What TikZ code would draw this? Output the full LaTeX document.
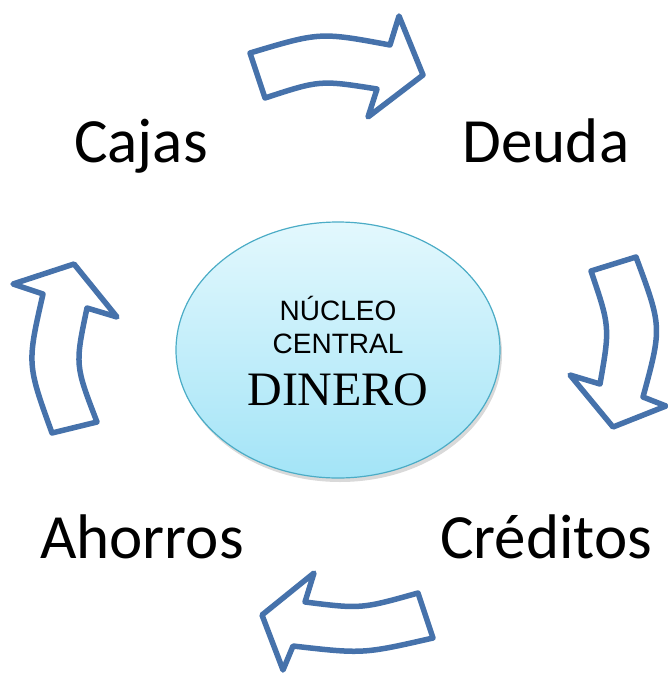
\documentclass[tikz,border=0pt]{standalone}
\usepackage{fontspec}
\usetikzlibrary{shapes.geometric,shadows}
\newfontfamily\fuenteetiqueta{Carlito}
\newfontfamily\fuentesans{Liberation Sans}
\newfontfamily\fuenteserif{Liberation Serif}
\definecolor{azulflecha}{RGB}{70,114,171}
\definecolor{bordenucleo}{RGB}{75,172,198}
\definecolor{cielo}{RGB}{227,248,253}
\definecolor{celeste}{RGB}{163,228,247}
\tikzset{
  flecha/.style={draw=azulflecha, line width=5.5pt, line join=round, fill=white},
  etiqueta/.style={anchor=base, inner sep=0pt, font=\fuenteetiqueta\fontsize{63}{70}\selectfont},
  centro/.style={anchor=base, inner sep=0pt}
}
\begin{document}
\begin{tikzpicture}[x=1pt,y=-1pt]
  \useasboundingbox (0,0) rectangle (667,675);
  % central ellipse
  \node[ellipse, minimum width=324pt, minimum height=256pt, draw=bordenucleo, line width=1.2pt,
        top color=cielo, bottom color=celeste,
        drop shadow={shadow xshift=2pt, shadow yshift=-4pt, opacity=0.3}] (nucleo) at (338,350) {};
  \node[centro, font=\fuentesans\fontsize{28}{32}\selectfont] (linea1) at (338,320) {NÚCLEO};
  \node[centro, font=\fuentesans\fontsize{28}{32}\selectfont] (linea2) at (338,353) {CENTRAL};
  \node[centro, font=\fuenteserif\fontsize{48}{54}\selectfont] (dinero) at (338,405) {DINERO};
  % labels
  \node[etiqueta] (cajas) at (141,162) {Cajas};
  \node[etiqueta] (deuda) at (546,162) {Deuda};
  \node[etiqueta] (ahorros) at (142,558) {Ahorros};
  \node[etiqueta] (creditos) at (546,558) {Créditos};
  % block arrows
  \draw[flecha] (250,53) .. controls (320,32) .. (390,45) -- (399,16) -- (423,75) -- (368,117)
    -- (377,89) .. controls (320,80) .. (265,98) -- cycle; %top
  \draw[flecha] (591,271) -- (636,257) .. controls (662,327) .. (643,397) -- (666,406) -- (613,427)
    -- (570,375) -- (600,384) .. controls (610,327) .. (591,271) -- cycle; %right
  \draw[flecha] (418,593) -- (433,638) .. controls (363,654) .. (293,646) -- (283,670) -- (262,615)
    -- (314,573) -- (305,602) .. controls (361,609) .. (418,593) -- cycle; %bottom
  \draw[flecha] (52,433) -- (97,422) .. controls (75,365) .. (87,308) -- (117,317) -- (74,264)
    -- (13,284) -- (43,294) .. controls (27,364) .. (52,433) -- cycle; %left
\end{tikzpicture}
\end{document}
